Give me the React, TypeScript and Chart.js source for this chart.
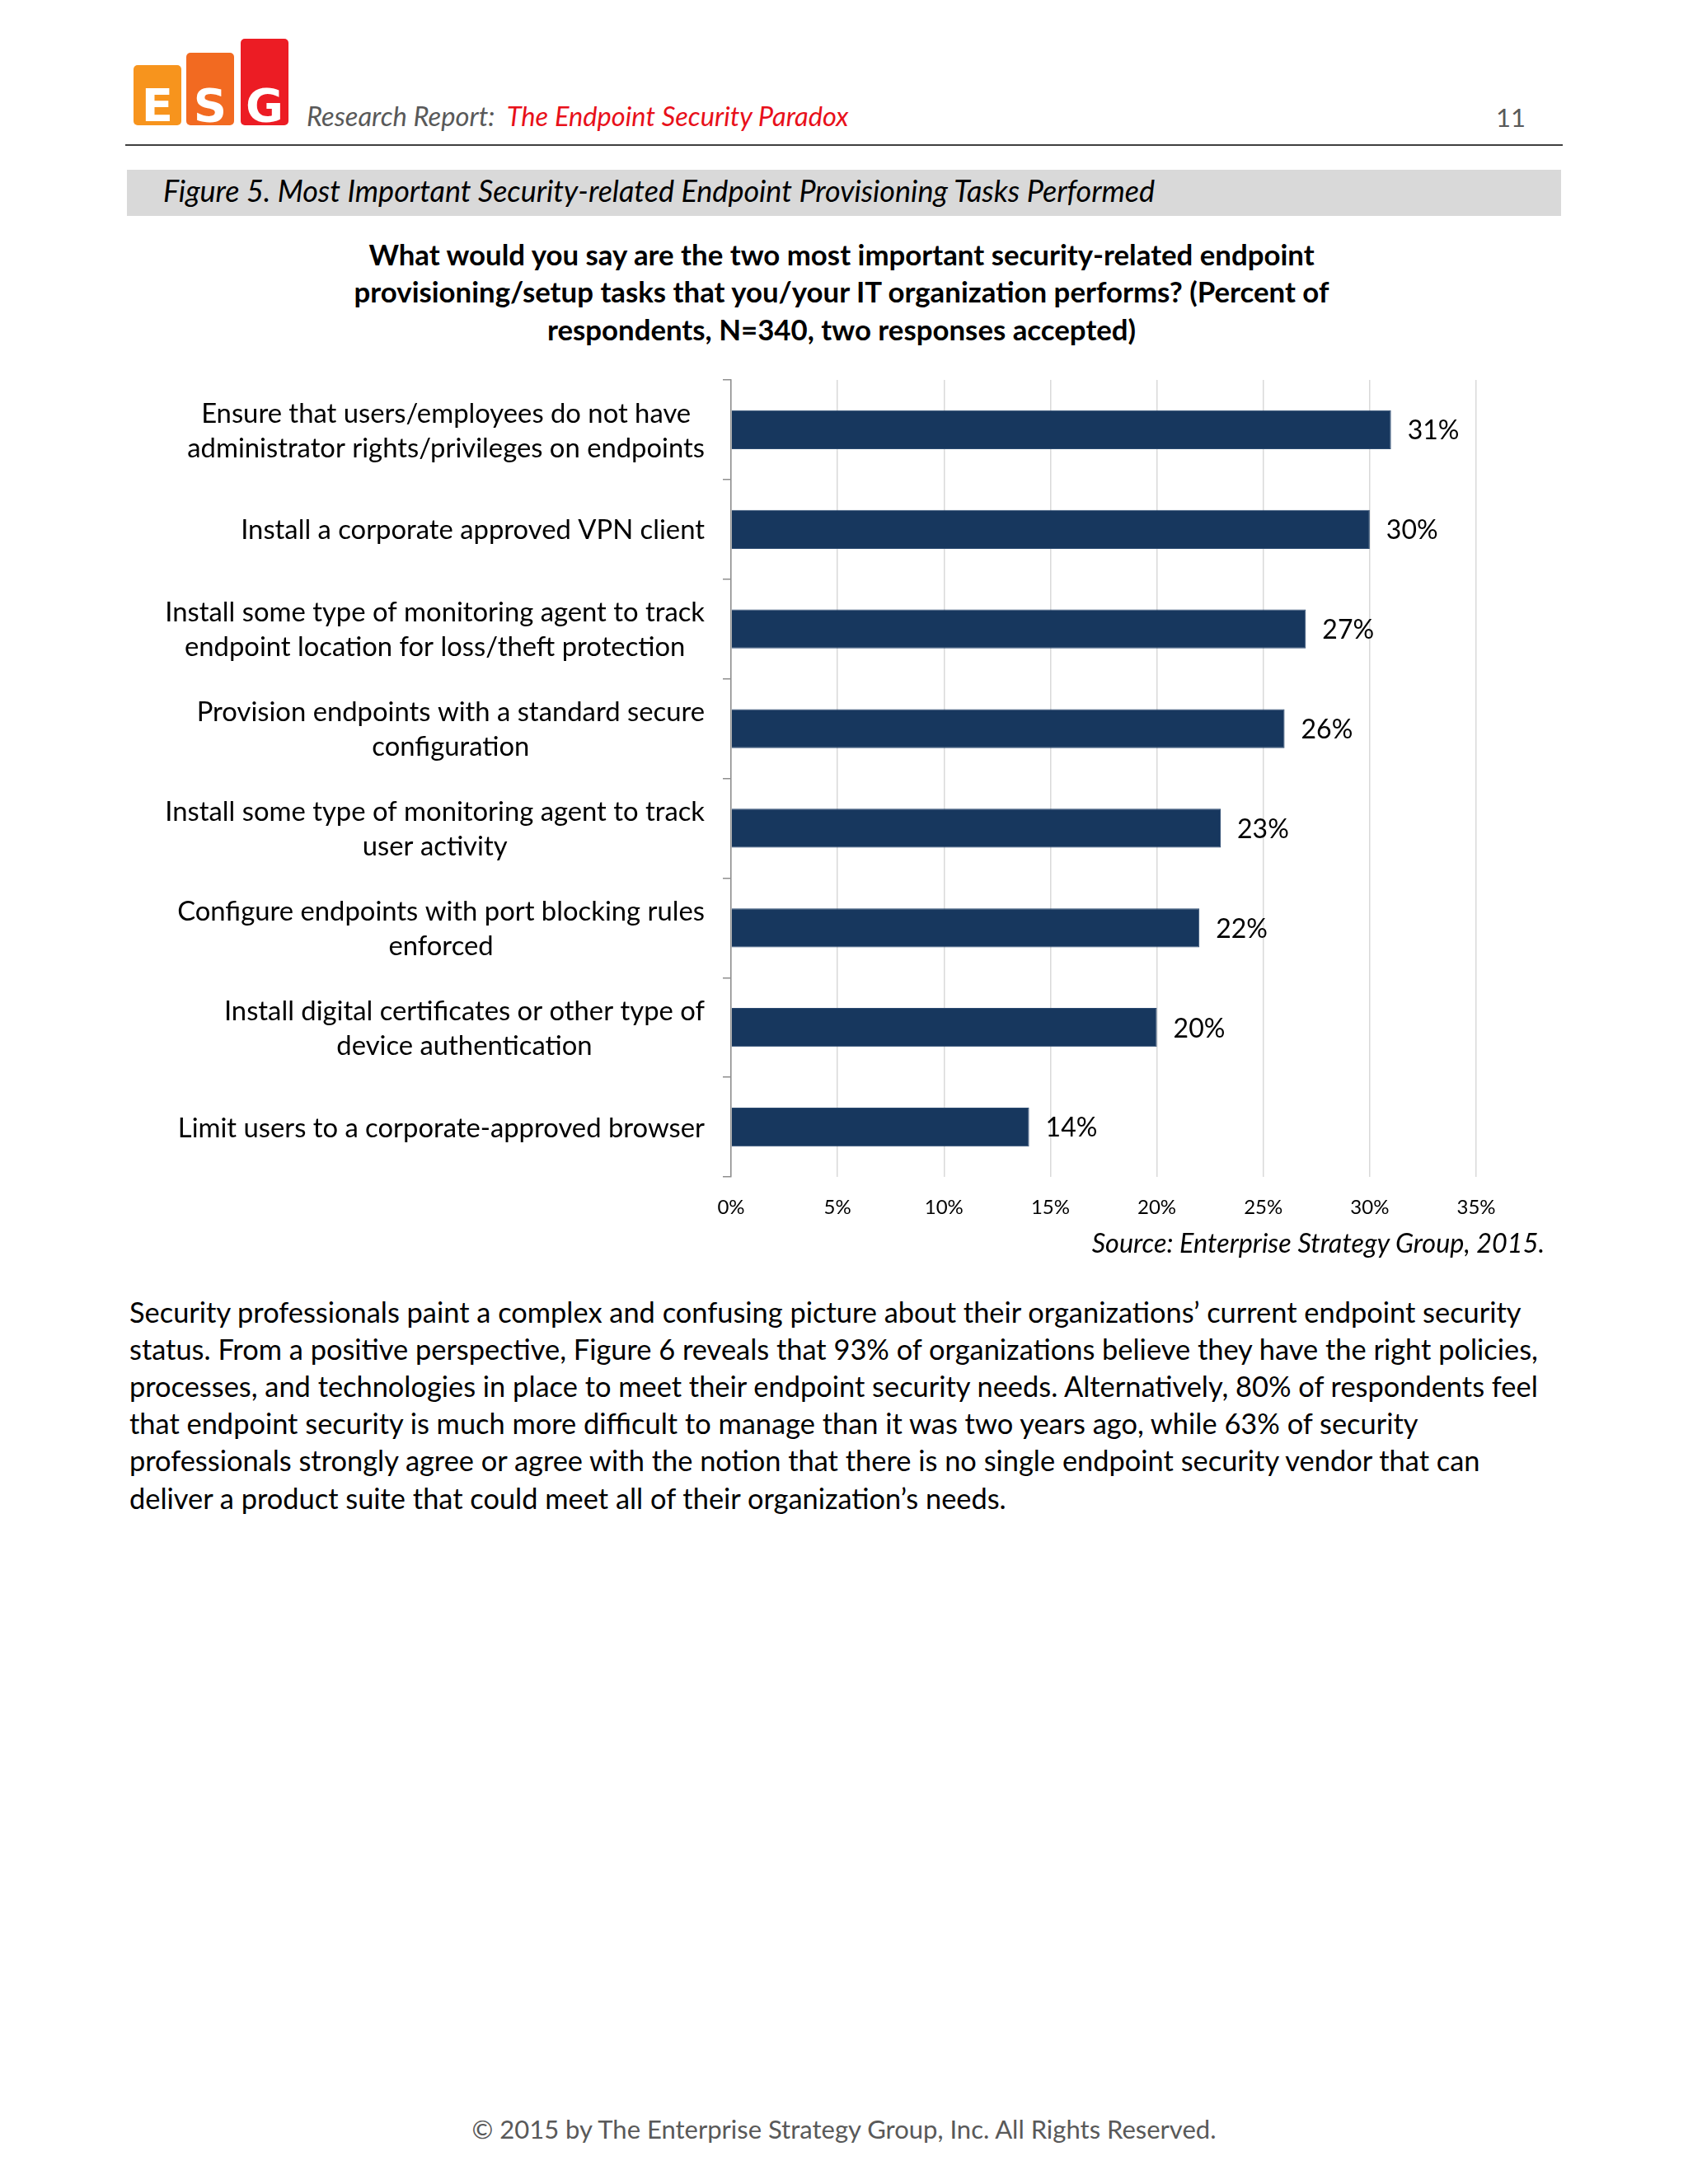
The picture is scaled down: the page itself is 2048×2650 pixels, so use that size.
import React, { useEffect, useRef } from "react";
import { Chart, registerables } from "chart.js";

Chart.register(...registerables);

// ---------- data ----------
const categories: (string | string[])[] = [
  ["Ensure that users/employees do not have", "administrator rights/privileges on endpoints"],
  "Install a corporate approved VPN client",
  ["Install some type of monitoring agent to track", "endpoint location for loss/theft protection"],
  ["Provision endpoints with a standard secure", "configuration"],
  ["Install some type of monitoring agent to track", "user activity"],
  ["Configure endpoints with port blocking rules", "enforced"],
  ["Install digital certificates or other type of", "device authentication"],
  "Limit users to a corporate-approved browser",
];
const values: number[] = [31, 30, 27, 26, 23, 22, 20, 14];
const xTickValues: number[] = [0, 5, 10, 15, 20, 25, 30, 35];
const xTickLabels: string[] = ["0%", "5%", "10%", "15%", "20%", "25%", "30%", "35%"];

const titleLines: string[] = [
  "What would you say are the two most important security-related endpoint",
  "provisioning/setup tasks that you/your IT organization performs? (Percent of",
  "respondents, N=340, two responses accepted)",
];
const paragraphLines: string[] = [
  "Security professionals paint a complex and confusing picture about their organizations\u2019 current endpoint security",
  "status. From a positive perspective, Figure 6 reveals that 93% of organizations believe they have the right policies,",
  "processes, and technologies in place to meet their endpoint security needs. Alternatively, 80% of respondents feel",
  "that endpoint security is much more difficult to manage than it was two years ago, while 63% of security",
  "professionals strongly agree or agree with the notion that there is no single endpoint security vendor that can",
  "deliver a product suite that could meet all of their organization\u2019s needs.",
];

const FONT = "Lato, 'Noto Sans', sans-serif";
const BAR_COLOR = "#17375E";

// canvas placement
const CANVAS_LEFT = 150;
const CANVAS_TOP = 440;
const CANVAS_W = 1750;
const CANVAS_H = 1058;

const labelPlugin = {
  id: "customLabels",
  afterDraw(chart: any) {
    const ctx = chart.ctx as CanvasRenderingContext2D;
    const yScale = chart.scales.y;
    const meta = chart.getDatasetMeta(0);
    ctx.save();
    ctx.fillStyle = "#000";
    ctx.textBaseline = "middle";
    ctx.font = `32.8px ${FONT}`;
    ctx.textAlign = "center";
    categories.forEach((cat, i) => {
      const lines = Array.isArray(cat) ? cat : [cat];
      const cy = yScale.getPixelForValue(i) + 1.5;
      const blockW = Math.max(...lines.map((l) => ctx.measureText(l).width));
      const cx = yScale.right - 32 - blockW / 2;
      lines.forEach((l, j) => {
        ctx.fillText(l, cx, cy + (j - (lines.length - 1) / 2) * 42);
      });
    });
    ctx.font = `32px ${FONT}`;
    ctx.textAlign = "left";
    meta.data.forEach((bar: any, i: number) => {
      ctx.fillText(values[i] + "%", bar.x + 20, bar.y + 1.5);
    });
    ctx.restore();
  },
};

function BarChart() {
  const ref = useRef<HTMLCanvasElement>(null);
  useEffect(() => {
    if (!ref.current) return;
    const chart = new Chart(ref.current, {
      type: "bar",
      data: {
        labels: categories as any,
        datasets: [
          {
            data: values,
            backgroundColor: BAR_COLOR,
            borderColor: "#2c4a70",
            borderWidth: 1,
            barPercentage: 0.39,
            categoryPercentage: 1,
          },
        ],
      },
      options: {
        indexAxis: "y",
        responsive: false,
        animation: false,
        layout: { padding: { top: 21, right: CANVAS_LEFT + CANVAS_W - 1791, left: 0, bottom: 0 } },
        plugins: {
          legend: { display: false },
          tooltip: { enabled: false },
          title: { display: false },
        },
        scales: {
          x: {
            type: "linear",
            min: 0,
            max: 35,
            afterBuildTicks: (s: any) => {
              s.ticks = xTickValues.map((v) => ({ value: v }));
            },
            ticks: {
              callback: (_v: any, i: number) => xTickLabels[i],
              font: { family: FONT, size: 24 },
              color: "#000",
              padding: 23,
              maxRotation: 0,
            },
            grid: { color: "#d9d9d9", lineWidth: 1.5, drawTicks: false },
            border: { display: false },
            afterFit: (s: any) => {
              s.height = 70;
            },
          },
          y: {
            ticks: { display: false },
            grid: {
              drawOnChartArea: false,
              drawTicks: true,
              tickLength: 10,
              color: "#8e8e8e",
              lineWidth: 1.5,
              offset: true,
            },
            border: { display: true, color: "#8e8e8e", width: 1.5 },
            afterFit: (s: any) => {
              s.width = 887 - CANVAS_LEFT;
            },
          },
        },
      },
      plugins: [labelPlugin],
    });
    return () => chart.destroy();
  }, []);
  return (
    <canvas
      ref={ref}
      width={CANVAS_W}
      height={CANVAS_H}
      style={{ position: "absolute", left: CANVAS_LEFT, top: CANVAS_TOP, width: CANVAS_W, height: CANVAS_H }}
    />
  );
}

// place text by baseline
function Txt(props: {
  x: number;
  base: number;
  size: number;
  align?: "left" | "center" | "right";
  style?: React.CSSProperties;
  children: React.ReactNode;
}) {
  const { x, base, size, align = "left", style, children } = props;
  const L = Math.round(size * 1.3);
  const top = base - L / 2 - 0.387 * size;
  const pos: React.CSSProperties = { position: "absolute", top, lineHeight: L + "px", whiteSpace: "nowrap", fontSize: size, fontFamily: FONT };
  if (align === "left") pos.left = x;
  else if (align === "right") pos.right = 2048 - x;
  else {
    pos.left = x;
    pos.transform = "translateX(-50%)";
  }
  return <div style={{ ...pos, ...style }}>{children}</div>;
}

function Logo() {
  const blocks = [
    { l: "E", x: 162, top: 79, c: "#F7941D" },
    { l: "S", x: 226, top: 64, c: "#F26A21" },
    { l: "G", x: 292, top: 47, c: "#EC1C24" },
  ];
  return (
    <>
      {blocks.map((b) => (
        <div
          key={b.l}
          style={{
            position: "absolute",
            left: b.x,
            top: b.top,
            width: 58,
            height: 152 - b.top,
            background: b.c,
            borderRadius: 5,
          }}
        >
          <div
            style={{
              position: "absolute",
              left: 0,
              width: 58,
              textAlign: "center",
              top: 100 - b.top,
              lineHeight: "56px",
              fontSize: 56,
              fontWeight: 700,
              color: "#fff",
              fontFamily: "'DejaVu Sans', sans-serif",
            }}
          >
            {b.l}
          </div>
        </div>
      ))}
    </>
  );
}

export default function App() {
  return (
    <div style={{ position: "absolute", left: 0, top: 0, width: 2048, height: 2650, background: "#fff", overflow: "hidden", color: "#000" }}>
      <Logo />
      <Txt x={372} base={153} size={32.7} style={{ fontStyle: "italic", color: "#595959" }}>
        Research Report:&nbsp;&nbsp;<span style={{ color: "#E8101A" }}>The Endpoint Security Paradox</span>
      </Txt>
      <Txt x={1833} base={154} size={31} align="center" style={{ color: "#595959" }}>
        11
      </Txt>
      <div style={{ position: "absolute", left: 152, top: 175, width: 1744, height: 2, background: "#404040" }} />
      <div style={{ position: "absolute", left: 154, top: 206, width: 1740, height: 56, background: "#d9d9d9" }} />
      <Txt x={198} base={245} size={36} style={{ fontStyle: "italic" }}>
        Figure 5. Most Important Security-related Endpoint Provisioning Tasks Performed
      </Txt>
      {titleLines.map((t, i) => (
        <Txt key={i} x={1021} base={321.5 + i * 45.5} size={34.8} align="center" style={{ fontWeight: 700 }}>
          {t}
        </Txt>
      ))}
      <BarChart />
      <Txt x={1874} base={1521} size={32.4} align="right" style={{ fontStyle: "italic" }}>
        Source: Enterprise Strategy Group, 2015.
      </Txt>
      {paragraphLines.map((t, i) => (
        <Txt key={i} x={157} base={1604.5 + i * 45.2} size={34.4}>
          {t}
        </Txt>
      ))}
      <Txt x={1024} base={2595} size={31} align="center" style={{ color: "#595959" }}>
        © 2015 by The Enterprise Strategy Group, Inc. All Rights Reserved.
      </Txt>
    </div>
  );
}
